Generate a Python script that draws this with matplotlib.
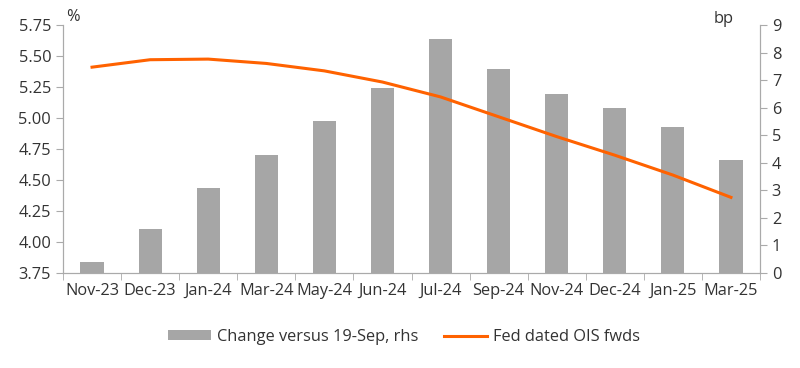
import numpy as np
import matplotlib
matplotlib.use("Agg")
import matplotlib.pyplot as plt

plt.rcParams['font.family'] = ['Open Sans', 'DejaVu Sans']

# data
categories = ['Nov-23', 'Dec-23', 'Jan-24', 'Mar-24', 'May-24', 'Jun-24',
              'Jul-24', 'Sep-24', 'Nov-24', 'Dec-24', 'Jan-25', 'Mar-25']
change_bp = [0.4, 1.6, 3.1, 4.3, 5.5, 6.7, 8.5, 7.4, 6.5, 6.0, 5.3, 4.1]
ois_fwds = [5.41, 5.47, 5.475, 5.44, 5.38, 5.29, 5.17, 5.01, 4.85, 4.70, 4.54, 4.36]

txt = '#333333'
spine_c = '#aaaaaa'
fs = 11.8

fig = plt.figure(figsize=(8, 3.68), dpi=100)
ax = fig.add_axes([63/800, 1-273/368, (760-63)/800, (273-25)/368])
ax2 = ax.twinx()

x = np.arange(len(categories))
ax2.bar(x, change_bp, width=0.4, color='#a6a6a6', label='Change versus 19-Sep, rhs')
ln, = ax.plot(x, ois_fwds, color='#ff6200', lw=2.2, label='Fed dated OIS fwds')

# line on top of the bars
ax.set_zorder(ax2.get_zorder() + 1)
ax.patch.set_visible(False)

ax.set_xlim(-0.5, len(categories) - 0.5)
ax.set_ylim(3.75, 5.75)
ax.set_yticks(np.arange(3.75, 5.76, 0.25))
ax.set_yticklabels([f'{v:.2f}' for v in np.arange(3.75, 5.76, 0.25)])
ax2.set_ylim(0, 9)
ax2.set_yticks(range(0, 10))

ax.set_xticks(x)
ax.set_xticklabels(categories)
ax.set_xticks(np.arange(-0.5, len(categories), 1), minor=True)
ax.tick_params(axis='x', which='major', length=0, pad=7, labelsize=fs, colors=txt)
ax.tick_params(axis='x', which='minor', length=5, color=spine_c)
ax.tick_params(axis='y', length=5, color=spine_c, labelsize=fs, labelcolor=txt)
ax2.tick_params(axis='y', length=5, color=spine_c, labelsize=fs, labelcolor=txt)

for a in (ax, ax2):
    a.spines['top'].set_visible(False)
    for s in ('left', 'right', 'bottom'):
        a.spines[s].set_color(spine_c)

ax.text(0.005, 1.0, '%', transform=ax.transAxes, fontsize=fs, color=txt,
        ha='left', va='bottom')
ax2.text(0.962, 0.99, 'bp', transform=ax2.transAxes, fontsize=fs, color=txt,
         ha='right', va='bottom')

handles = [ax2.patches[0], ln]
labels = ['Change versus 19-Sep, rhs', 'Fed dated OIS fwds']
fig.legend(handles, labels, loc='center', bbox_to_anchor=(0.505, 1-337/368),
           ncol=2, frameon=False, fontsize=fs, labelcolor=txt,
           handlelength=2.6, handleheight=0.55, handletextpad=0.35,
           columnspacing=1.6)

fig.savefig('out.png', dpi=100)
